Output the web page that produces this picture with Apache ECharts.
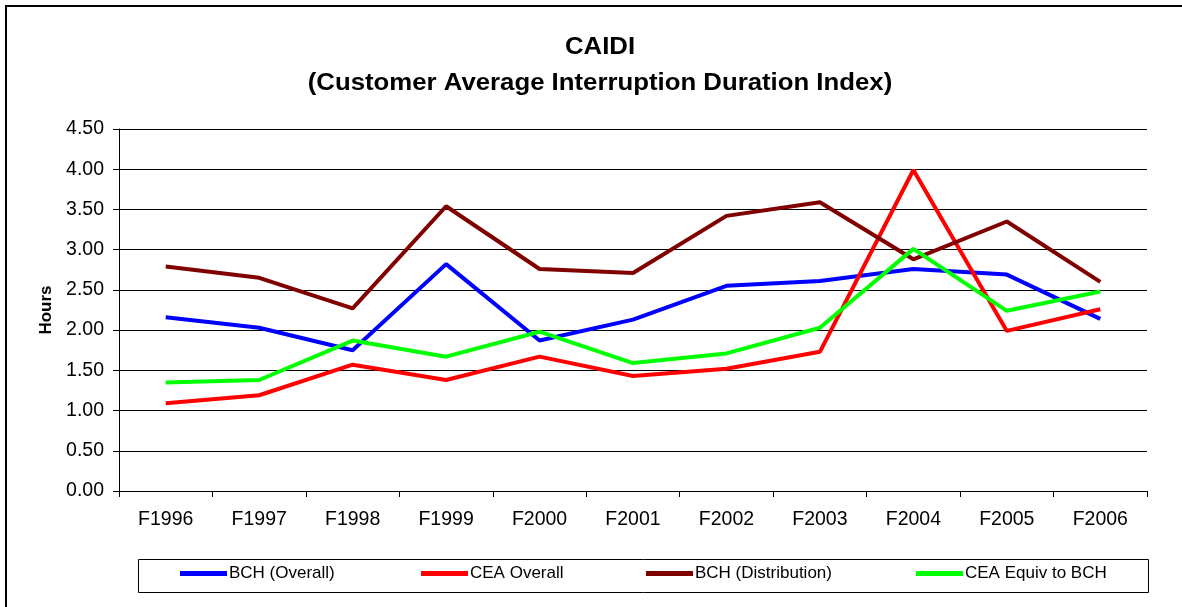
<!DOCTYPE html>
<html>
<head>
<meta charset="utf-8">
<script src="https://cdn.jsdelivr.net/npm/echarts@6/dist/echarts.min.js"></script>
<style>
html,body{margin:0;padding:0;background:#fff;}
#chart{width:1182px;height:607px;}
</style>
</head>
<body>
<div id="chart"></div>
<script>
const categories = ['F1996','F1997','F1998','F1999','F2000','F2001','F2002','F2003','F2004','F2005','F2006'];
const bchOverall = [2.16, 2.03, 1.75, 2.82, 1.87, 2.13, 2.55, 2.61, 2.76, 2.69, 2.14];
const ceaOverall = [1.09, 1.19, 1.57, 1.38, 1.67, 1.43, 1.52, 1.73, 3.99, 1.99, 2.26];
const bchDistribution = [2.79, 2.65, 2.27, 3.54, 2.76, 2.71, 3.42, 3.59, 2.88, 3.35, 2.60];
const ceaEquiv = [1.35, 1.38, 1.87, 1.67, 1.98, 1.59, 1.71, 2.03, 3.01, 2.24, 2.48];
const seriesNames = ['BCH (Overall)', 'CEA Overall', 'BCH (Distribution)', 'CEA Equiv to BCH'];
const seriesColors = ['#0000FF', '#FF0000', '#800000', '#00FF00'];
const seriesData = [bchOverall, ceaOverall, bchDistribution, ceaEquiv];
const titleLines = ['CAIDI', '(Customer Average Interruption Duration Index)'];
const legendLefts = [180, 421, 646, 916];

const font = '"Liberation Sans", Arial, sans-serif';
const chart = echarts.init(document.getElementById('chart'));

const legends = seriesNames.map((n, i) => ({
  data: [n],
  left: legendLefts[i],
  top: 565,
  orient: 'horizontal',
  icon: 'rect',
  itemWidth: 47,
  itemHeight: 5,
  itemGap: 2,
  padding: 0,
  selectedMode: false,
  textStyle: { fontFamily: font, fontSize: 17, color: '#000', padding: [0, 0, 0, -3] }
}));

const titleGraphics = titleLines.map((t, i) => ({
  type: 'text',
  x: 600,
  y: i === 0 ? 48 : 84,
  scaleX: 1.12,
  scaleY: 1,
  silent: true,
  style: {
    text: t,
    x: 0, y: 0,
    fill: '#000',
    font: 'bold 23px ' + font,
    textAlign: 'center',
    textVerticalAlign: 'middle'
  }
}));

chart.setOption({
  backgroundColor: '#fff',
  animation: false,
  legend: legends,
  graphic: [
    { type: 'rect', shape: { x: 6, y: 6, width: 1300, height: 800 }, style: { fill: 'none', stroke: '#000', lineWidth: 2 }, silent: true },
    { type: 'rect', shape: { x: 138.5, y: 559.5, width: 1010, height: 33 }, style: { fill: 'none', stroke: '#000', lineWidth: 1 }, silent: true, z: -1 }
  ].concat(titleGraphics),
  grid: { left: 119, right: 35, top: 129, bottom: 116, containLabel: false },
  xAxis: {
    type: 'category',
    data: categories,
    boundaryGap: true,
    axisLine: { lineStyle: { color: '#000', width: 1 } },
    axisTick: { show: true, alignWithLabel: false, length: 6, lineStyle: { color: '#000' } },
    axisLabel: { fontFamily: font, fontSize: 19.5, color: '#000', margin: 19 },
    splitLine: { show: false }
  },
  yAxis: {
    type: 'value',
    min: 0,
    max: 4.5,
    interval: 0.5,
    name: 'Hours',
    nameLocation: 'middle',
    nameGap: 64,
    nameRotate: 90,
    nameTextStyle: { fontFamily: font, fontSize: 17, fontWeight: 'bold', color: '#000' },
    axisLine: { show: true, lineStyle: { color: '#000', width: 1 } },
    axisTick: { show: true, length: 6, lineStyle: { color: '#000' } },
    axisLabel: { fontFamily: font, fontSize: 19.5, color: '#000', margin: 15, formatter: v => v.toFixed(2) },
    splitLine: { show: true, lineStyle: { color: '#000', width: 1 } }
  },
  series: seriesNames.map((n, i) => ({
    name: n,
    type: 'line',
    data: seriesData[i],
    symbol: 'none',
    showSymbol: false,
    color: seriesColors[i],
    lineStyle: { color: seriesColors[i], width: 4 },
    z: 2 + i
  }))
});
</script>
</body>
</html>
